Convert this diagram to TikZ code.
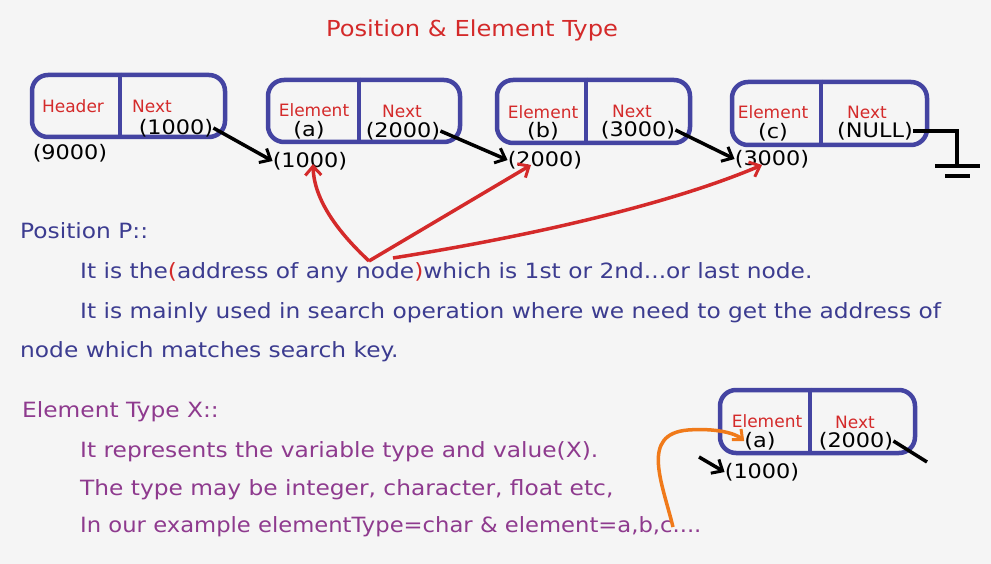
\documentclass[tikz,border=0pt]{standalone}
\usepackage{fontspec}
\setmainfont{DejaVu Sans}
\newfontfamily\bodyf{DejaVu Sans}[FakeStretch=1.11]
\newfontfamily\bodyn{DejaVu Sans}[FakeStretch=1.08]
\newfontfamily\titlef{DejaVu Sans}[FakeStretch=1.1]
\newfontfamily\valf{DejaVu Sans}[FakeStretch=1.12]
\usetikzlibrary{calc,arrows.meta}
\definecolor{bgc}{HTML}{F5F5F5}
\definecolor{boxc}{HTML}{4444A2}
\definecolor{redc}{HTML}{D42A2A}
\definecolor{bluet}{HTML}{3C3C90}
\definecolor{purt}{HTML}{8E3A8E}
\definecolor{orangec}{HTML}{F07A1A}
\begin{document}
\begin{tikzpicture}[x=1pt,y=-1pt,
  cell/.style={draw=boxc, line width=4.5pt, rounded corners=16pt, inner sep=0pt},
  divline/.style={draw=boxc, line width=4pt},
  lbl/.style={text=redc, font=\fontsize{17}{17}\selectfont, inner sep=0pt},
  val/.style={text=black, font=\valf\fontsize{20}{20}\selectfont, inner sep=0pt},
  blk/.style={draw=black, line width=3.5pt},
  blkarr/.style={blk, -{Straight Barb[length=9pt,width=16pt,line width=3pt]}},
  redarr/.style={draw=redc, line width=3.5pt, -{Straight Barb[length=9pt,width=16pt,line width=3pt]}},
  orarr/.style={draw=orangec, line width=3.5pt, -{Straight Barb[length=8pt,width=14pt,line width=3pt]}},
  btext/.style={text=bluet, anchor=base west, inner sep=0pt, font=\bodyf\fontsize{21}{21}\selectfont},
  ptext/.style={text=purt, anchor=base west, inner sep=0pt, font=\bodyf\fontsize{21}{21}\selectfont},
  ttext/.style={text=redc, inner sep=0pt, font=\titlef\fontsize{22}{22}\selectfont}
]
\fill[bgc] (0,0) rectangle (991,564);
\useasboundingbox (0,0) rectangle (991,564);

% title
\node[ttext] (title) at (472,30) {Position \& Element Type};

% boxes
\node[cell, minimum width=193pt, minimum height=62pt] (b1) at (128.5,106) {};
\node[cell, minimum width=192pt, minimum height=62pt] (b2) at (364,111) {};
\node[cell, minimum width=193pt, minimum height=63pt] (b3) at (593.5,111.5) {};
\node[cell, minimum width=195pt, minimum height=63pt] (b4) at (829.5,113.5) {};
\node[cell, minimum width=195pt, minimum height=63pt] (b5) at (817.5,421.5) {};
\draw[divline] ([xshift=90pt]b1.north west) -- ([xshift=90pt]b1.south west);
\draw[divline] ([xshift=93pt]b2.north west) -- ([xshift=93pt]b2.south west);
\draw[divline] ([xshift=91pt]b3.north west) -- ([xshift=91pt]b3.south west);
\draw[divline] ([xshift=91pt]b4.north west) -- ([xshift=91pt]b4.south west);
\draw[divline] ([xshift=92pt]b5.north west) -- ([xshift=92pt]b5.south west);

% box 1
\node[lbl] (hd) at (73,106) {Header};
\node[lbl] (n1) at (152,106) {Next};
\node[val] (v1) at (176,128) {(1000)};
\node[val] (a9) at (70,153) {(9000)};
% box 2
\node[lbl] (e2) at (314,110) {Element};
\node[val] (x2) at (309,130) {(a)};
\node[lbl] (n2) at (402,111) {Next};
\node[val] (v2) at (403,131) {(2000)};
\node[val] (ad2) at (310,161) {(1000)};
% box 3
\node[lbl] (e3) at (543,112) {Element};
\node[val] (x3) at (543,131) {(b)};
\node[lbl] (n3) at (632,111) {Next};
\node[val] (v3) at (638,130) {(3000)};
\node[val] (ad3) at (545,160) {(2000)};
% box 4
\node[lbl] (e4) at (773,112) {Element};
\node[val] (x4) at (773,132) {(c)};
\node[lbl] (n4) at (867,112) {Next};
\node[val] (v4) at (875,131) {(NULL)};
\node[val] (ad4) at (772,159) {(3000)};
% box 5
\node[lbl] (e5) at (767,421) {Element};
\node[val] (x5) at (760,441) {(a)};
\node[lbl] (n5) at (855,422) {Next};
\node[val] (v5) at (856,441) {(2000)};
\node[val] (ad5) at (762,472) {(1000)};

% black links
\draw[blkarr] (v1.east) -- (ad2.west);
\draw[blkarr] (v2.east) -- (ad3.west);
\draw[blkarr] (v3.east) -- (ad4.west);
% ground
\coordinate (g) at (957,166);
\coordinate (gl) at (935,166);
\coordinate (gr) at (980,166);
\coordinate (hl) at (945,176);
\coordinate (hr) at (970,176);
\draw[blk] (v4.east) -| (g);
\draw[blk] (gl) -- (gr);
\draw[blk] (hl) -- (hr);

% red arrows
\coordinate (rs) at (369,261);
\coordinate (rs2) at (393,258);
\draw[redarr] (rs) .. controls (338,232) and (314,200) .. ([shift={(3,3)}]ad2.center);
\draw[redarr] (rs) -- ([shift={(-14,5)}]ad3.center);
\draw[redarr] (rs2) .. controls (550,233) and (680,200) .. ([shift={(-10,6)}]ad4.center);

% text
\node[btext] (pp) at (20,239) {Position P::};
\node[btext] (l1) at (80,279) {It is the{\color{redc}(}address of any node{\color{redc})}which is 1st or 2nd...or last node.};
\node[btext] (l2) at (80,318) {It is mainly used in search operation where we need to get the address of};
\node[btext] (l3) at (20,357) {node which matches search key.};

\node[ptext] (et) at (22,417) {Element Type X::};
\node[ptext] (m1) at (80,457) {It represents the variable type and value(X).};
\node[ptext] (m2) at (80,495) {The type may be integer, character, float etc,};
\node[ptext, font=\bodyn\fontsize{21}{21}\selectfont] (m3) at (80,532) {In our example elementType=char \& element=a,b,c....};

% box 5 links
\coordinate (k1) at (699,457);
\coordinate (k2) at (927,462);
\draw[blkarr] (k1) -- (ad5.west);
\draw[blk] (v5.east) -- (k2);
\coordinate (oc) at (673,527);
\draw[orarr] (oc) .. controls (662,482) and (640,434) .. (688,430) .. controls (715,428) and (735,433) .. (x5.west);
\end{tikzpicture}
\end{document}
